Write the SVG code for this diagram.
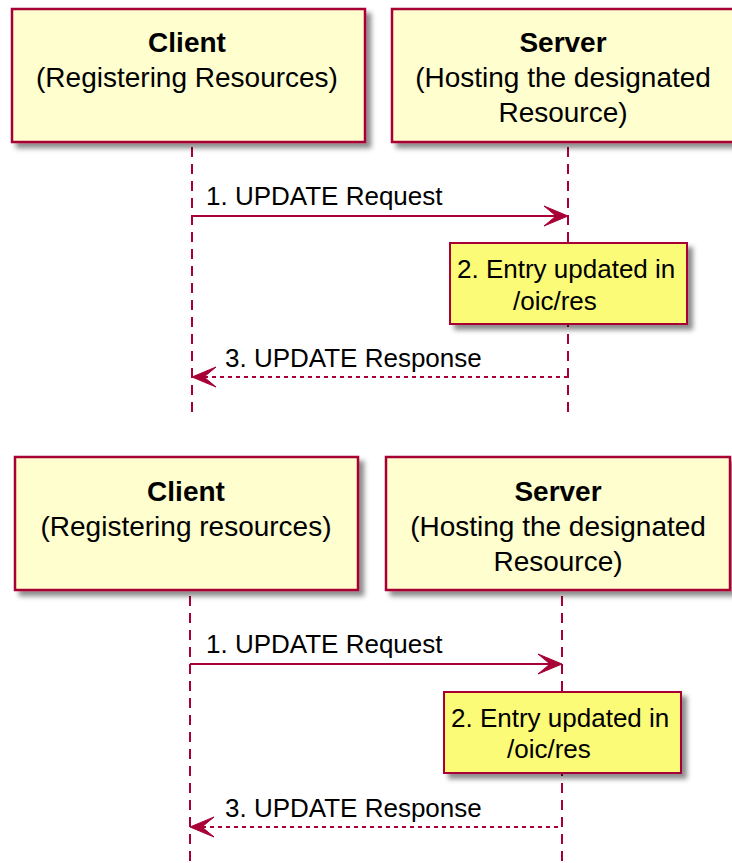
<svg xmlns="http://www.w3.org/2000/svg" width="732" height="863" viewBox="0 0 732 863">
  <style>
    .part { fill: #FEFECE; stroke: #A80036; stroke-width: 2.5; filter: url(#shadow); }
    .note { fill: #FBFB77; stroke: #A80036; stroke-width: 2; filter: url(#shadow); }
    .life { stroke: #A80036; stroke-width: 2; stroke-dasharray: 10 7; fill: none; }
    .msg { stroke: #A80036; stroke-width: 2; fill: none; }
    .dash { stroke-dasharray: 4 4; }
    .head { fill: #A80036; stroke: #A80036; stroke-width: 1; }
    .ttl { font-family: "Liberation Sans", Arial, sans-serif; font-size: 28px; font-weight: bold; fill: #000; text-anchor: middle; }
    .sub { font-family: "Liberation Sans", Arial, sans-serif; font-size: 28px; fill: #000; text-anchor: middle; }
    .lbl { font-family: "Liberation Sans", Arial, sans-serif; font-size: 26px; fill: #000; }
  </style>
  <defs>
    <filter id="shadow" x="-10%" y="-10%" width="130%" height="140%">
      <feDropShadow dx="5" dy="5" stdDeviation="2.5" flood-color="#000" flood-opacity="0.45"/>
    </filter>
  </defs>

  <!-- Lifelines and messages -->
  <g id="connectors">
    <line class="life" x1="192" y1="147" x2="192" y2="415"/>
    <line class="life" x1="568" y1="147" x2="568" y2="415"/>
    <line class="life" x1="190" y1="596" x2="190" y2="863"/>
    <line class="life" x1="562" y1="596" x2="562" y2="863"/>

    <g id="top-msg1">
      <line class="msg" x1="192" y1="216" x2="564" y2="216"/>
      <polygon class="head" points="568,216 544,206 556,216 544,226"/>
      <text class="lbl" x="206" y="205">1. UPDATE Request</text>
    </g>
    <g id="top-msg3">
      <line class="msg dash" x1="196" y1="377" x2="568" y2="377"/>
      <polygon class="head" points="192,377 216,367 204,377 216,387"/>
      <text class="lbl" x="225" y="367">3. UPDATE Response</text>
    </g>
    <g id="bottom-msg1">
      <line class="msg" x1="190" y1="664" x2="558" y2="664"/>
      <polygon class="head" points="562,664 538,654 550,664 538,674"/>
      <text class="lbl" x="206" y="653">1. UPDATE Request</text>
    </g>
    <g id="bottom-msg3">
      <line class="msg dash" x1="194" y1="827" x2="562" y2="827"/>
      <polygon class="head" points="190,827 214,817 202,827 214,837"/>
      <text class="lbl" x="225" y="817">3. UPDATE Response</text>
    </g>
  </g>

  <!-- Top diagram -->
  <g id="top-client">
    <rect class="part" x="12" y="9" width="353" height="133"/>
    <text class="ttl" x="187" y="52">Client</text>
    <text class="sub" x="187" y="87">(Registering Resources)</text>
  </g>
  <g id="top-server">
    <rect class="part" x="392" y="9" width="345" height="133"/>
    <text class="ttl" x="563" y="52">Server</text>
    <text class="sub" x="563" y="87">(Hosting the designated</text>
    <text class="sub" x="563" y="122">Resource)</text>
  </g>
  <g id="top-note">
    <rect class="note" x="450" y="243" width="237" height="81"/>
    <text class="lbl" x="457" y="278">2. Entry updated in</text>
    <text class="lbl" x="513" y="310">/oic/res</text>
  </g>

  <!-- Bottom diagram -->
  <g id="bottom-client">
    <rect class="part" x="15" y="457" width="343" height="133"/>
    <text class="ttl" x="186" y="501">Client</text>
    <text class="sub" x="186" y="536">(Registering resources)</text>
  </g>
  <g id="bottom-server">
    <rect class="part" x="386" y="457" width="344" height="133"/>
    <text class="ttl" x="558" y="501">Server</text>
    <text class="sub" x="558" y="536">(Hosting the designated</text>
    <text class="sub" x="558" y="571">Resource)</text>
  </g>
  <g id="bottom-note">
    <rect class="note" x="444" y="692" width="237" height="81"/>
    <text class="lbl" x="451" y="727">2. Entry updated in</text>
    <text class="lbl" x="507" y="758">/oic/res</text>
  </g>
</svg>
